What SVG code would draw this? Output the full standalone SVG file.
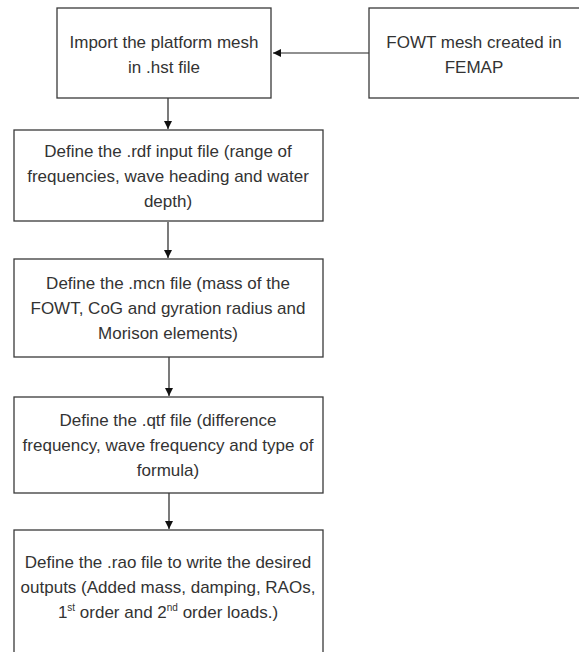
<svg xmlns="http://www.w3.org/2000/svg" width="579" height="652" viewBox="0 0 579 652">
<style>
.box{fill:#fff;stroke:#3a3a3a;stroke-width:1.3}
.t{font-family:"Liberation Sans",Arial,sans-serif;font-size:17px;fill:#333;text-anchor:middle}
.c{stroke:#222;stroke-width:1.2;fill:none;marker-end:url(#ah)}
</style>
<defs>
<marker id="ah" viewBox="0 0 10 10" refX="10" refY="5" markerWidth="8" markerHeight="8" markerUnits="userSpaceOnUse" orient="auto">
<path d="M0,0 L10,5 L0,10 z" fill="#111"/>
</marker>
</defs>
<rect width="579" height="652" fill="#fff"/>
<g id="connectors">
<line class="c" x1="369" y1="53" x2="273" y2="53"/>
<line class="c" x1="168" y1="98" x2="168" y2="129"/>
<line class="c" x1="168" y1="222" x2="168" y2="258"/>
<line class="c" x1="169" y1="357" x2="169" y2="396"/>
<line class="c" x1="169" y1="493" x2="169" y2="529"/>
</g>
<g id="n1">
<rect class="box" x="57" y="8" width="214" height="90"/>
<text class="t" x="164" y="48">Import the platform mesh</text>
<text class="t" x="164" y="73">in .hst file</text>
</g>
<g id="n0">
<rect class="box" x="369" y="8" width="220" height="90"/>
<text class="t" x="474" y="48">FOWT mesh created in</text>
<text class="t" x="474" y="73">FEMAP</text>
</g>
<g id="n2">
<rect class="box" x="14" y="130" width="309" height="91"/>
<text class="t" x="168" y="157">Define the .rdf input file (range of</text>
<text class="t" x="168" y="182">frequencies, wave heading and water</text>
<text class="t" x="168" y="207">depth)</text>
</g>
<g id="n3">
<rect class="box" x="14" y="259" width="309" height="98"/>
<text class="t" x="168" y="289">Define the .mcn file (mass of the</text>
<text class="t" x="168" y="314">FOWT, CoG and gyration radius and</text>
<text class="t" x="168" y="339">Morison elements)</text>
</g>
<g id="n4">
<rect class="box" x="14" y="397" width="309" height="96"/>
<text class="t" x="168" y="426">Define the .qtf file (difference</text>
<text class="t" x="168" y="451">frequency, wave frequency and type of</text>
<text class="t" x="168" y="476">formula)</text>
</g>
<g id="n5">
<rect class="box" x="14" y="530" width="309" height="140"/>
<text class="t" x="168" y="568">Define the .rao file to write the desired</text>
<text class="t" x="168" y="593">outputs (Added mass, damping, RAOs,</text>
<text class="t" x="168" y="618">1<tspan font-size="10" dy="-7">st</tspan><tspan dy="7"> order and 2</tspan><tspan font-size="10" dy="-7">nd</tspan><tspan dy="7"> order loads.)</tspan></text>
</g>
</svg>
